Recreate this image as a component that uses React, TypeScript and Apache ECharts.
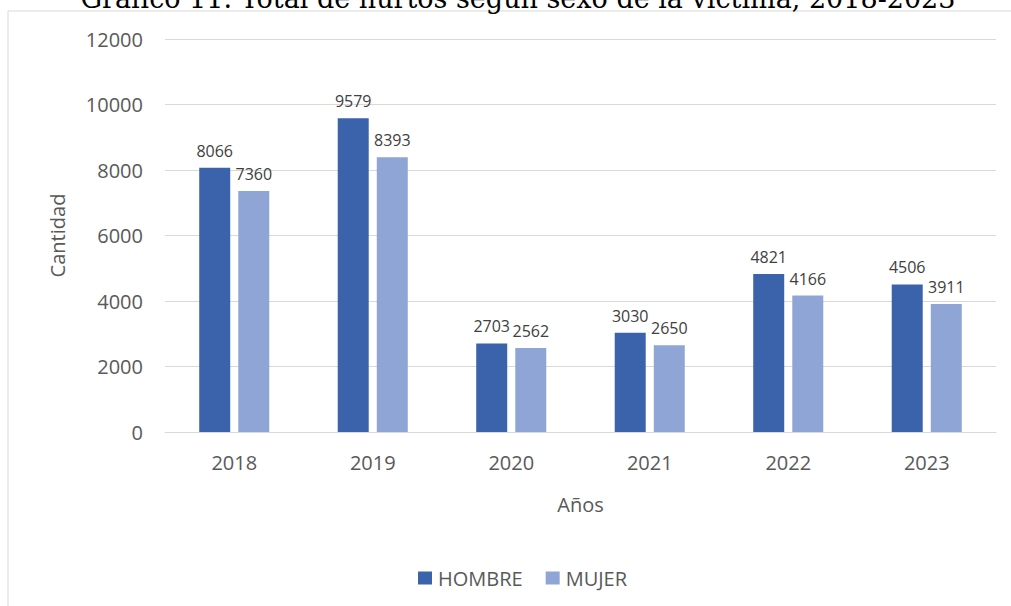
import React, { useEffect, useRef } from "react";
import * as echarts from "echarts";

const years = ["2018", "2019", "2020", "2021", "2022", "2023"];
const hombre = [8066, 9579, 2703, 3030, 4821, 4506];
const mujer = [7360, 8393, 2562, 2650, 4166, 3911];
const titleText = "Gráfico 11. Total de hurtos según sexo de la víctima, 2018-2023";

export default function App() {
  const ref = useRef<HTMLDivElement>(null);
  useEffect(() => {
    document.body.style.margin = "0";
    const chart = echarts.init(ref.current!, null, { renderer: "svg" });
    const font = "'Open Sans', sans-serif";
    const labelStyle = {
      show: true,
      position: "top",
      distance: 9,
      color: "#404040",
      fontSize: 16,
      fontFamily: font,
    };
    chart.setOption({
      animation: false,
      backgroundColor: "#ffffff",
      textStyle: { fontFamily: font },
      graphic: [
        {
          type: "rect",
          shape: { x: 8, y: 11, width: 1100, height: 700 },
          style: { fill: "none", stroke: "#d9d9d9", lineWidth: 1 },
          silent: true,
        },
        {
          type: "text",
          x: 518,
          y: 12,
          style: {
            text: titleText,
            font: "27px 'DejaVu Serif', serif",
            fill: "#000000",
            align: "center",
            verticalAlign: "bottom",
          },
        },
      ],
      grid: { left: 165, right: 15, top: 39, bottom: 174 },
      legend: {
        data: ["HOMBRE", "MUJER"],
        left: 413,
        top: 563,
        itemWidth: 14,
        itemHeight: 13,
        itemGap: 23,
        icon: "rect",
        textStyle: { color: "#595959", fontSize: 20, fontFamily: font, padding: [0, 0, 0, 1] },
      },
      xAxis: {
        type: "category",
        data: years,
        name: "Años",
        nameLocation: "middle",
        nameGap: 62,
        nameTextStyle: { color: "#595959", fontSize: 20, fontFamily: font },
        axisLine: { lineStyle: { color: "#d9d9d9", width: 1 } },
        axisTick: { show: false },
        axisLabel: { color: "#595959", fontSize: 20, fontFamily: font, margin: 20 },
      },
      yAxis: {
        type: "value",
        min: 0,
        max: 12000,
        interval: 2000,
        name: "Cantidad",
        nameLocation: "middle",
        nameGap: 98,
        nameTextStyle: { color: "#595959", fontSize: 20, fontFamily: font },
        axisLine: { show: false },
        axisTick: { show: false },
        splitLine: { lineStyle: { color: "#d9d9d9", width: 1 } },
        axisLabel: {
          color: "#595959",
          fontSize: 20,
          fontFamily: font,
          margin: 22,
          formatter: (v: number) => String(v),
        },
      },
      series: [
        {
          name: "HOMBRE",
          type: "bar",
          data: hombre,
          barWidth: 31,
          barGap: "26%",
          itemStyle: { color: "#3B63AC" },
          label: labelStyle,
        },
        {
          name: "MUJER",
          type: "bar",
          data: mujer,
          barWidth: 31,
          itemStyle: { color: "#8FA5D5" },
          label: labelStyle,
        },
      ],
    });
    return () => chart.dispose();
  }, []);
  return <div ref={ref} style={{ width: 1011, height: 606 }} />;
}
